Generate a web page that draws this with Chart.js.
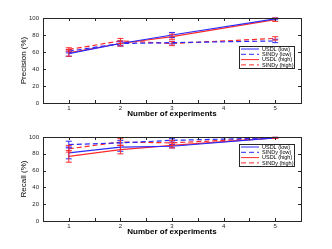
<!DOCTYPE html>
<html><head><meta charset="utf-8">
<script src="https://cdn.jsdelivr.net/npm/chart.js@4.4.0/dist/chart.umd.min.js"></script>
<style>
html,body{margin:0;padding:0;background:#fff;}
#wrap{position:relative;width:332px;height:249px;}
canvas{position:absolute;left:0;}
</style></head><body>
<div id="wrap">
<canvas id="c1" width="332" height="124" style="top:0"></canvas>
<canvas id="c2" width="332" height="125" style="top:124px"></canvas>
</div>
<script>
const experiments = [1, 2, 3, 5];
const seriesNames = ['USDL (low)', 'SINDy (low)', 'USDL (high)', 'SINDy (high)'];
// Precision (%)
const precUSDLlow   = [58, 70, 80, 99];
const precSINDylow  = [61, 70, 71, 73];
const precUSDLhigh  = [59, 70, 78, 98];
const precSINDyhigh = [63, 73, 70, 76];
const precErrUSDLlow   = [3, 3, 3, 1];
const precErrSINDylow  = [2, 2, 1.5, 2];
const precErrUSDLhigh  = [4, 3, 3, 2];
const precErrSINDyhigh = [2, 3, 2.5, 2];
// Recall (%)
const recUSDLlow   = [81, 88, 89, 99];
const recSINDylow  = [91, 93, 96, 99];
const recUSDLhigh  = [77, 85, 90, 99];
const recSINDyhigh = [86, 94, 93, 99];
const recErrUSDLlow   = [7, 5, 2, 0.5];
const recErrSINDylow  = [4, 3, 2, 0.5];
const recErrUSDLhigh  = [7, 5, 3, 0.5];
const recErrSINDyhigh = [4, 4, 3, 0.5];

const yTicks = [0, 20, 40, 60, 80, 100];
const xTickLabels = [1, 2, 3, 4, 5];

const BLUE = '#2a2aff', RED = '#ff2a2a';
const FONT = 'Liberation Sans, Arial, sans-serif';

function mk(vals, errs, name, color, dashed) {
  return {
    label: name,
    data: experiments.map((x, i) => ({x: x, y: vals[i], e: errs[i]})),
    borderColor: color, backgroundColor: color,
    borderWidth: 1.2, borderDash: dashed ? [5, 3] : [],
    pointRadius: 0, tension: 0, fill: false
  };
}

const boxPlugin = {
  id: 'box',
  afterDatasetsDraw(chart) {
    const ctx = chart.ctx, a = chart.chartArea;
    const xs = chart.scales.x, ys = chart.scales.y;
    chart.data.datasets.forEach(ds => {
      ctx.save();
      ctx.strokeStyle = ds.borderColor; ctx.lineWidth = 1; ctx.setLineDash([]);
      ds.data.forEach(p => {
        const px = xs.getPixelForValue(p.x);
        const y1 = ys.getPixelForValue(p.y - p.e), y2 = ys.getPixelForValue(Math.min(p.y + p.e, 101));
        ctx.beginPath();
        ctx.moveTo(px, y1); ctx.lineTo(px, y2);
        ctx.moveTo(px - 3, y1); ctx.lineTo(px + 3, y1);
        ctx.moveTo(px - 3, y2); ctx.lineTo(px + 3, y2);
        ctx.stroke();
      });
      ctx.restore();
    });
    ctx.save();
    ctx.strokeStyle = '#262626'; ctx.lineWidth = 1; ctx.setLineDash([]);
    ctx.strokeRect(Math.round(a.left) + 0.5, Math.round(a.top) + 0.5, Math.round(a.right - a.left), Math.round(a.bottom - a.top));
    ctx.beginPath();
    for (let v = 1; v <= 5.001; v += 0.5) {
      const px = Math.round(xs.getPixelForValue(v)) + 0.5;
      ctx.moveTo(px, a.bottom); ctx.lineTo(px, a.bottom - 3);
      ctx.moveTo(px, a.top); ctx.lineTo(px, a.top + 3);
    }
    for (let v = 0; v <= 100; v += 20) {
      const py = Math.round(ys.getPixelForValue(v)) + 0.5;
      ctx.moveTo(a.left, py); ctx.lineTo(a.left + 3, py);
      ctx.moveTo(a.right, py); ctx.lineTo(a.right - 3, py);
    }
    ctx.stroke();
    const lo = chart.options.plugins.box;
    const bx = a.right - lo.dx, by = a.top + lo.dy, bw = 55, bh = 22;
    ctx.fillStyle = '#fff';
    ctx.fillRect(bx, by, bw, bh);
    ctx.strokeStyle = '#262626';
    ctx.strokeRect(Math.round(bx) + 0.5, Math.round(by) + 0.5, bw, bh);
    ctx.font = '5.5px ' + FONT; ctx.textBaseline = 'middle'; ctx.textAlign = 'left';
    chart.data.datasets.forEach((ds, i) => {
      const ry = by + 3 + i * 5.3;
      ctx.strokeStyle = ds.borderColor; ctx.setLineDash(ds.borderDash);
      ctx.beginPath(); ctx.moveTo(bx + 2, ry); ctx.lineTo(bx + 20, ry); ctx.stroke();
      ctx.fillStyle = '#000'; ctx.fillText(ds.label, bx + 23, ry + 0.3);
    });
    ctx.restore();
  }
};

function makeChart(id, title, datasets, padTop, padBottom, legendDy) {
  return new Chart(document.getElementById(id), {
    type: 'line',
    data: {datasets: datasets},
    plugins: [boxPlugin],
    options: {
      responsive: false, animation: false, devicePixelRatio: 1,
      layout: {padding: {top: padTop, right: 31, left: 19, bottom: padBottom}},
      plugins: {legend: {display: false}, tooltip: {enabled: false}, box: {dx: 62, dy: legendDy}},
      scales: {
        x: {
          type: 'linear', min: 0.5, max: 5.5,
          afterBuildTicks: s => { s.ticks = xTickLabels.map(v => ({value: v})); },
          grid: {display: false, drawTicks: false},
          border: {display: false},
          ticks: {padding: 2, color: '#262626', font: {size: 6, family: FONT}, maxRotation: 0, autoSkip: false},
          title: {display: true, text: 'Number of experiments', color: '#000', font: {size: 8, weight: 'bold', family: FONT}, padding: {top: 0, bottom: 0}},
          afterFit: s => { s.height = 16; }
        },
        y: {
          min: 0, max: 100,
          afterBuildTicks: s => { s.ticks = yTicks.map(v => ({value: v})); },
          grid: {display: false, drawTicks: false},
          border: {display: false},
          ticks: {padding: 4, color: '#262626', font: {size: 6, family: FONT}},
          title: {display: true, text: title, color: '#000', font: {size: 8, family: FONT}, padding: {top: 0, bottom: 0}},
          afterFit: s => { s.width = 24; }
        }
      }
    }
  });
}

makeChart('c1', 'Precision (%)', [
  mk(precUSDLlow, precErrUSDLlow, seriesNames[0], BLUE, false),
  mk(precSINDylow, precErrSINDylow, seriesNames[1], BLUE, true),
  mk(precUSDLhigh, precErrUSDLhigh, seriesNames[2], RED, false),
  mk(precSINDyhigh, precErrSINDyhigh, seriesNames[3], RED, true)
], 18, 5, 28);

makeChart('c2', 'Recall (%)', [
  mk(recUSDLlow, recErrUSDLlow, seriesNames[0], BLUE, false),
  mk(recSINDylow, recErrSINDylow, seriesNames[1], BLUE, true),
  mk(recUSDLhigh, recErrUSDLhigh, seriesNames[2], RED, false),
  mk(recSINDyhigh, recErrSINDyhigh, seriesNames[3], RED, true)
], 13, 12, 7);
</script>
</body></html>
